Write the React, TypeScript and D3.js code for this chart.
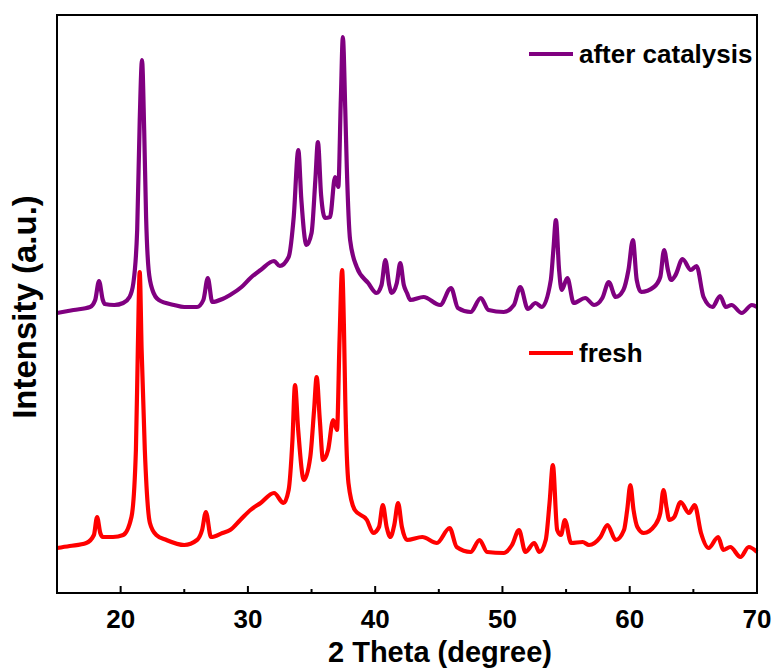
import React, { useEffect, useRef } from 'react';
import * as d3 from 'd3';

// values: 2 theta (degree) and intensity (a.u., shared stacked scale)
const freshTheta = [
  15.0, 16.0, 17.3, 17.9, 18.15, 18.4, 18.6, 19.4, 20.2, 20.85, 21.2, 21.35, 21.5, 21.65, 21.9,
  22.3, 22.8, 23.6, 25.0, 26.0, 26.4, 26.7, 27.1, 28.0, 28.6, 29.4, 30.2, 31.0, 32.05, 32.8,
  33.2, 33.5, 33.7, 33.95, 34.4, 34.9, 35.2, 35.4, 35.65, 35.9, 36.3, 36.7, 37.0, 37.2, 37.4,
  37.55, 37.65, 37.9, 38.4, 39.35, 39.85, 40.3, 40.6, 40.9, 41.2, 41.5, 41.8, 42.1, 42.5, 43.7,
  44.85, 45.85, 46.4, 47.5, 48.2, 48.8, 50.1, 50.75, 51.3, 51.8, 52.5, 52.9, 53.4, 53.7, 53.96,
  54.3, 54.6, 54.9, 55.4, 56.3, 56.8, 57.7, 58.25, 58.9, 59.55, 59.8, 60.05, 60.3, 60.6, 61.1,
  62.0, 62.4, 62.65, 62.9, 63.1, 63.5, 64.0, 64.65, 65.1, 65.6, 66.2, 66.95, 67.35, 67.9, 68.7,
  69.35, 70.0,
];
const freshIntensity = [
  45, 47, 50, 58, 76, 60, 56, 56, 58, 76, 143, 243, 321, 243, 143,
  70, 58, 53, 48, 53, 63, 81, 56, 60, 63, 73, 83, 90, 100, 90,
  103, 153, 208, 163, 113, 136, 183, 216, 173, 133, 143, 173, 163, 253, 323,
  263, 193, 110, 83, 73, 60, 66, 88, 66, 56, 68, 90, 66, 53, 56,
  50, 65, 46, 41, 53, 41, 40, 48, 63, 41, 50, 41, 53, 90, 128,
  63, 58, 73, 50, 51, 48, 56, 68, 53, 63, 83, 108, 83, 66, 60,
  68, 80, 103, 85, 73, 76, 91, 80, 88, 60, 45, 56, 43, 46, 36,
  46, 41,
];

const afterTheta = [
  15.0, 16.3, 17.6, 18.0, 18.3, 18.6, 18.75, 19.5, 20.2, 20.7, 21.0, 21.3, 21.5, 21.68, 21.85,
  22.0, 22.2, 22.5, 23.0, 24.2, 25.0, 26.0, 26.5, 26.85, 27.2, 28.0, 28.6, 29.5, 30.2, 31.0,
  32.05, 32.5, 33.2, 33.6, 33.96, 34.2, 34.6, 35.0, 35.3, 35.5, 35.75, 36.06, 36.45, 36.85, 37.1,
  37.3, 37.46, 37.65, 37.77, 38.03, 38.55, 39.45, 40.1, 40.5, 40.8, 41.1, 41.3, 41.7, 41.97, 42.25,
  42.5, 42.76, 43.8, 45.1, 45.96, 46.5, 47.5, 48.3, 48.9, 50.1, 50.9, 51.4, 52.0, 52.6, 53.1,
  53.8, 54.0, 54.2, 54.45, 54.65, 55.1, 55.6, 56.5, 57.2, 57.85, 58.35, 58.9, 59.5, 59.9, 60.25,
  60.55, 60.9, 61.9, 62.4, 62.7, 63.0, 63.25, 63.6, 64.15, 64.8, 65.25, 65.8, 66.5, 67.1, 67.55,
  68.0, 68.8, 69.6, 70.0,
];
const afterIntensity = [
  280, 283, 286, 293, 312, 293, 289, 288, 290, 296, 310, 363, 473, 533, 463,
  376, 323, 303, 293, 288, 286, 286, 293, 315, 291, 294, 298, 306, 315, 323,
  332, 327, 336, 376, 443, 393, 348, 360, 413, 451, 398, 375, 376, 416, 406,
  493, 556, 483, 426, 353, 326, 310, 300, 308, 333, 308, 300, 310, 330, 308,
  300, 293, 296, 288, 305, 285, 281, 295, 283, 281, 288, 306, 284, 290, 286,
  313, 343, 373, 323, 303, 315, 290, 295, 288, 295, 311, 296, 303, 323, 353,
  313, 301, 306, 316, 343, 323, 313, 318, 334, 323, 327, 296, 286, 297, 286,
  288, 280, 288, 286,
];

const seriesNames = ['fresh', 'after catalysis'];
const seriesColors = ['#ff0000', '#800080'];
const xMajorTicks = [20, 30, 40, 50, 60, 70];
const xMinorTicks = [25, 35, 45, 55, 65];

const XrdChart = () => {
  const ref = useRef<SVGGElement>(null);
  const width = 777;
  const height = 670;

  useEffect(() => {
    const margin = { top: 15, right: 20, bottom: 77, left: 57 };
    const g = d3.select(ref.current);
    g.selectAll('*').remove();

    const x = d3.scaleLinear().domain([15, 70]).range([margin.left, width - margin.right]);
    const y = d3.scaleLinear().domain([0, 578]).range([height - margin.bottom, margin.top]);

    const line = d3
      .line<[number, number]>()
      .curve(d3.curveMonotoneX)
      .x(d => x(d[0]))
      .y(d => y(d[1]));

    const series = [
      freshTheta.map((t, i) => [t, freshIntensity[i]] as [number, number]),
      afterTheta.map((t, i) => [t, afterIntensity[i]] as [number, number]),
    ];

    // traces (fresh first, after catalysis on top)
    series.forEach((s, i) => {
      g.append('path')
        .datum(s)
        .attr('fill', 'none')
        .attr('stroke', seriesColors[i])
        .attr('stroke-width', 4.2)
        .attr('stroke-linejoin', 'round')
        .attr('d', line);
    });

    // frame
    g.append('rect')
      .attr('x', x(15))
      .attr('y', y(578))
      .attr('width', x(70) - x(15))
      .attr('height', y(0) - y(578))
      .attr('fill', 'none')
      .attr('stroke', '#000')
      .attr('stroke-width', 2);

    // bottom ticks point inward
    const xAxis = g.append('g').attr('transform', `translate(0,${y(0)})`);
    xAxis
      .selectAll('.major')
      .data(xMajorTicks)
      .enter()
      .append('line')
      .attr('x1', d => x(d))
      .attr('x2', d => x(d))
      .attr('y1', 0)
      .attr('y2', -7)
      .attr('stroke', '#000')
      .attr('stroke-width', 2);
    xAxis
      .selectAll('.minor')
      .data(xMinorTicks)
      .enter()
      .append('line')
      .attr('x1', d => x(d))
      .attr('x2', d => x(d))
      .attr('y1', 0)
      .attr('y2', -4)
      .attr('stroke', '#000')
      .attr('stroke-width', 2);
    xAxis
      .selectAll('text')
      .data(xMajorTicks)
      .enter()
      .append('text')
      .attr('x', d => x(d))
      .attr('y', 35)
      .attr('text-anchor', 'middle')
      .attr('font-size', 26)
      .attr('font-weight', 'bold')
      .text(d => d);

    g.append('text')
      .attr('x', 440)
      .attr('y', 662)
      .attr('text-anchor', 'middle')
      .attr('font-size', 29)
      .attr('font-weight', 'bold')
      .text('2 Theta (degree)');

    g.append('text')
      .attr('transform', `translate(36,307) rotate(-90)`)
      .attr('text-anchor', 'middle')
      .attr('font-size', 33)
      .attr('font-weight', 'bold')
      .text('Intensity (a.u.)');

    // legend entries, each placed beside its own trace
    const legendY = [353, 54];
    seriesNames.forEach((name, i) => {
      g.append('line')
        .attr('x1', 529)
        .attr('x2', 573)
        .attr('y1', legendY[i])
        .attr('y2', legendY[i])
        .attr('stroke', seriesColors[i])
        .attr('stroke-width', 4);
      g.append('text')
        .attr('x', 579)
        .attr('y', legendY[i] + 9)
        .attr('font-size', 26)
        .attr('font-weight', 'bold')
        .text(name);
    });
  }, []);

  return (
    <svg
      width={width}
      height={height}
      style={{ position: 'absolute', left: 0, top: 0, background: '#fff' }}
      fontFamily="'Liberation Sans', Arial, sans-serif"
    >
      <g ref={ref} />
    </svg>
  );
};

export default function App() {
  return <XrdChart />;
}
